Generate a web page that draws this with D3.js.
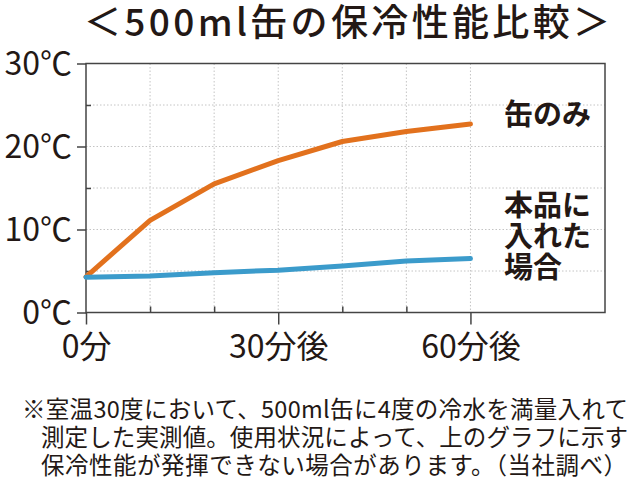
<!DOCTYPE html>
<html><head><meta charset="utf-8">
<script src="https://cdn.jsdelivr.net/npm/d3@7"></script>
<style>
html,body{margin:0;padding:0;background:#fff;}
svg{display:block;}
text{font-family:"Noto Sans CJK JP","Noto Sans",sans-serif;fill:#231815;}
</style></head>
<body>
<svg id="chart" width="640" height="482"></svg>
<script>
const title = "＜500ml缶の保冷性能比較＞";
const minutes = [0, 10, 20, 30, 40, 50, 60];
const canOnly = [4.3, 11.1, 15.5, 18.3, 20.6, 21.8, 22.7];
const withProduct = [4.25, 4.4, 4.8, 5.1, 5.6, 6.2, 6.5];
const yTickValues = [0, 10, 20, 30];
const yTickLabels = ["0℃", "10℃", "20℃", "30℃"];
const yMinorTicks = [5, 15, 25];
const xTickValues = [0, 30, 60];
const xTickLabels = ["0分", "30分後", "60分後"];
const xMinorTicks = [10, 20, 40, 50];
const labelCan = ["缶のみ"];
const labelProduct = ["本品に", "入れた", "場合"];
const footnote = [
  "※室温30度において、500ml缶に4度の冷水を満量入れて",
  "測定した実測値。使用状況によって、上のグラフに示す",
  "保冷性能が発揮できない場合があります。（当社調べ）"
];

const svg = d3.select("#chart");
const L = 86, R = 605, T = 63.5, B = 312.5;
const x = d3.scaleLinear().domain([0, 81]).range([L, R]);
const y = d3.scaleLinear().domain([0, 30]).range([B, T]);
const orange = "#e2711d", blue = "#3b9bcb", axisCol = "#444";

// title
svg.append("text").attr("x", 84).attr("y", 36)
  .attr("font-size", 37).attr("font-weight", 500)
  .attr("textLength", 526).attr("lengthAdjust", "spacing")
  .text(title);

// grid
const grid = svg.append("g").attr("stroke", "#c4c4c4").attr("stroke-width", 1).attr("stroke-dasharray", "1.5,2");
grid.selectAll("line.h").data([5, 10, 15, 20, 25]).join("line")
  .attr("x1", L).attr("x2", R).attr("y1", d => y(d)).attr("y2", d => y(d));
grid.selectAll("line.v").data([10, 20, 30, 40, 50, 60]).join("line")
  .attr("y1", T).attr("y2", B).attr("x1", d => x(d)).attr("x2", d => x(d));

// frame
svg.append("rect").attr("x", L).attr("y", T).attr("width", R - L).attr("height", B - T)
  .attr("fill", "none").attr("stroke", axisCol).attr("stroke-width", 1.5);

// y axis
const yAxis = d3.axisLeft(y).tickValues(yTickValues).tickSize(9)
  .tickFormat((d, i) => yTickLabels[i]).tickPadding(5);
const gy = svg.append("g").attr("transform", `translate(${L},0)`).call(yAxis);
gy.select(".domain").remove();
gy.selectAll(".tick line").attr("stroke", axisCol).attr("stroke-width", 1.5);
gy.selectAll(".tick text").attr("font-size", 32).attr("font-family", null)
  .attr("fill", "#231815").attr("dy", "0.34em").attr("x", -14);
const yMinor = d3.axisRight(y).tickValues(yMinorTicks).tickSize(5).tickFormat("");
const gym = svg.append("g").attr("transform", `translate(${L},0)`).call(yMinor);
gym.select(".domain").remove();
gym.selectAll(".tick line").attr("stroke", axisCol).attr("stroke-width", 1.5);

// x axis
const xAxis = d3.axisBottom(x).tickValues(xTickValues).tickSize(12)
  .tickFormat((d, i) => xTickLabels[i]).tickPadding(3);
const gx = svg.append("g").attr("transform", `translate(0,${B})`).call(xAxis);
gx.select(".domain").remove();
gx.selectAll(".tick line").attr("stroke", axisCol).attr("stroke-width", 1.5);
gx.selectAll(".tick text").attr("font-size", 32).attr("font-family", null)
  .attr("fill", "#231815").attr("dy", null).attr("y", 45);
const xMinor = d3.axisTop(x).tickValues(xMinorTicks).tickSize(6).tickFormat("");
const gxm = svg.append("g").attr("transform", `translate(0,${B})`).call(xMinor);
gxm.select(".domain").remove();
gxm.selectAll(".tick line").attr("stroke", axisCol).attr("stroke-width", 1.5);

// lines
const line = d3.line().x((d, i) => x(minutes[i])).y(d => y(d));
svg.append("path").datum(canOnly).attr("d", line).attr("fill", "none")
  .attr("stroke", orange).attr("stroke-width", 5).attr("stroke-linejoin", "round").attr("stroke-linecap", "round");
svg.append("path").datum(withProduct).attr("d", line).attr("fill", "none")
  .attr("stroke", blue).attr("stroke-width", 5).attr("stroke-linejoin", "round").attr("stroke-linecap", "round");

// series labels
svg.append("g").selectAll("text").data(labelCan).join("text")
  .attr("x", 504).attr("y", (d, i) => 125 + i * 31)
  .attr("font-size", 29).attr("font-weight", 700).text(d => d);
svg.append("g").selectAll("text").data(labelProduct).join("text")
  .attr("x", 504).attr("y", (d, i) => 216 + i * 31)
  .attr("font-size", 29).attr("font-weight", 700).text(d => d);

// footnote
const fx = [22, 41, 41], fl = [606, 587, 586];
svg.append("g").selectAll("text").data(footnote).join("text")
  .attr("x", (d, i) => fx[i]).attr("y", (d, i) => 418 + i * 28)
  .attr("font-size", 23.5)
  .attr("textLength", (d, i) => fl[i]).attr("lengthAdjust", "spacing")
  .text(d => d);
</script>
</body></html>
